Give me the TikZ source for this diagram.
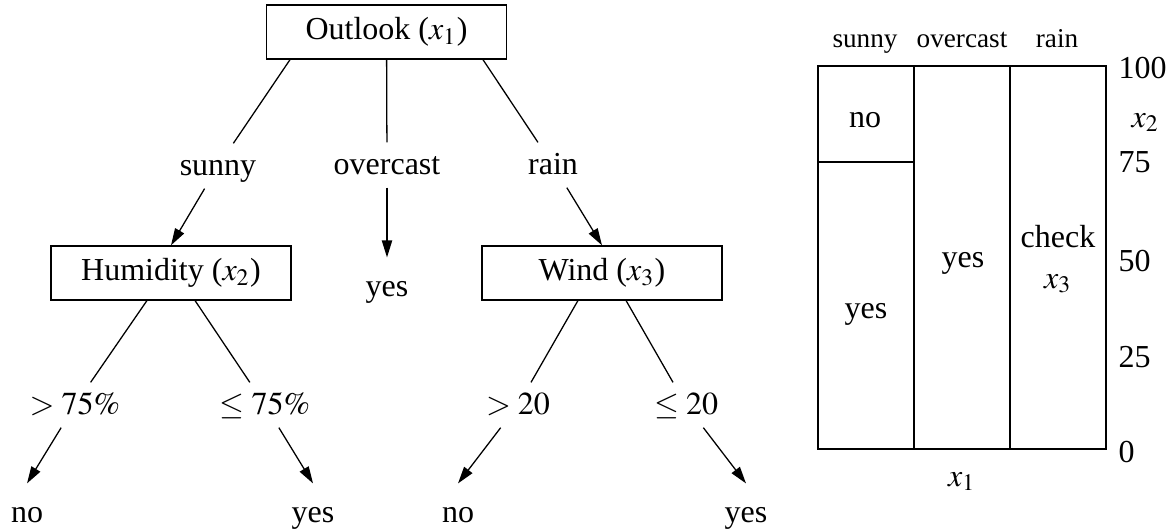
\documentclass[tikz,border=0pt]{standalone}
\usepackage{mathptmx}
\usepackage{fontspec}
\setmainfont{Liberation Serif}
\usetikzlibrary{positioning,calc,arrows.meta}

\begin{document}
\begin{tikzpicture}[x=0.3125pt,y=-0.3125pt,
  test/.style={draw,minimum width=75pt,minimum height=16.9pt,inner sep=0pt},
  branch/.style={text height=1.5ex,text depth=.25ex,minimum height=13.75pt,inner sep=0pt},
  leaf/.style={text height=1.5ex,text depth=.25ex,minimum height=18.1pt,inner sep=0pt},
  arr/.style={-{Triangle[length=5.3pt,width=3.2pt]}},
  hdr/.style={font=\fontsize{8.5}{10}\selectfont,anchor=base,inner sep=0pt},
  cell/.style={anchor=base,inner sep=0pt}]
\useasboundingbox (0,0) rectangle (1174,531);
% decision tree: tests on x1, x2, x3
\node[test] (outlook) at (386.5,32) {Outlook ($x_1$)};
\node[branch] (sunny) at (218,166) {sunny};
\node[branch] (overcast) at (387,165) {overcast};
\node[branch] (rain) at (553,165) {rain};
\node[test] (humidity) at (171,273) {Humidity ($x_2$)};
\node[leaf] (yesA) at (387,287) {yes};
\node[test] (wind) at (602,273) {Wind ($x_3$)};
\node[branch] (gtH) at (75,405) {$>75\%$};
\node[branch] (leH) at (265,405) {$\leq 75\%$};
\node[branch] (gtW) at (518,405) {$>20$};
\node[branch] (leW) at (686,405) {$\leq 20$};
\node[leaf] (noB) at (27,513) {no};
\node[leaf] (yesB) at (313,513) {yes};
\node[leaf] (noC) at (458,513) {no};
\node[leaf] (yesC) at (746,513) {yes};
% branches
\draw ($(outlook.south)!.8!(outlook.south west)$) -- (sunny);
\draw (outlook) -- (overcast);
\draw ($(outlook.south)!.8!(outlook.south east)$) -- (rain);
\draw[arr] (sunny) -- (humidity.north);
\draw[arr] (overcast) -- (yesA);
\draw[arr] (rain) -- (wind.north);
\draw ($(humidity.south)!.2!(humidity.south west)$) -- (gtH);
\draw ($(humidity.south)!.2!(humidity.south east)$) -- (leH);
\draw ($(wind.south)!.2!(wind.south west)$) -- (gtW);
\draw ($(wind.south)!.2!(wind.south east)$) -- (leW);
\draw[arr] (gtH) -- (noB.north);
\draw[arr] (leH) -- (yesB.north);
\draw[arr] (gtW) -- (noC.north);
\draw[arr] (leW) -- (yesC.north);
% partition of the (x1,x2) plane
\draw (818,66) rectangle (1106,449);
\foreach \xx in {914,1010} {\draw (\xx,66) -- (\xx,449);}
\draw (818,162) -- (914,162);
\foreach \xx/\txt in {865/sunny,962/overcast,1057/rain} {\node[hdr] (h\txt) at (\xx,47) {\txt};}
\foreach \val/\yy in {100/78,75/172,50/271,25/367,0/462} {\node[anchor=base west,inner sep=0pt] (t\val) at (1118,\yy) {\val};}
\node[anchor=base west,inner sep=0pt] (xtwo) at (1131,127) {$x_2$};
\node[cell] (xone) at (962,486) {$x_1$};
\node[cell] (cno) at (865,127) {no};
\node[cell] (cyesA) at (866,318) {yes};
\node[cell] (cyesB) at (963,267) {yes};
\node[cell] (cchk) at (1058,247) {check};
\node[cell] (cxthree) at (1058,288) {$x_3$};
\end{tikzpicture}
\end{document}
